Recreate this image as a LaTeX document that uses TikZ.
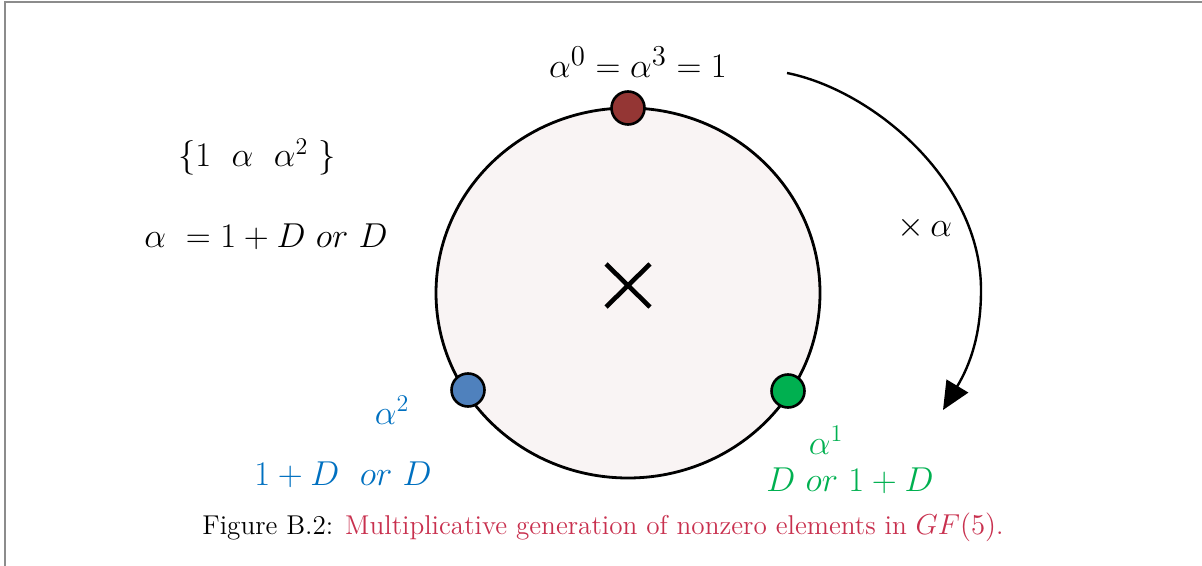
\documentclass[tikz,border=0pt]{standalone}
\usepackage{amsmath}
\usetikzlibrary{arrows.meta,positioning}

\definecolor{ringfill}{HTML}{F9F4F4}
\definecolor{dotred}{HTML}{943634}
\definecolor{dotblue}{HTML}{4F81BD}
\definecolor{dotgreen}{HTML}{00B050}
\definecolor{txtblue}{HTML}{0070C0}
\definecolor{txtgreen}{HTML}{00B050}
\definecolor{capred}{HTML}{C8304E}

\tikzset{
  elem/.style={circle, draw=black, line width=1.3pt, minimum size=16.5pt, inner sep=0pt},
  lbl/.style={font=\fontsize{17}{20}\selectfont, inner sep=0pt},
}

\begin{document}
\begin{tikzpicture}[x=0.5pt, y=-0.5pt]
    \useasboundingbox (0,0) rectangle (1202,566);

    % Frame
    \draw[gray!90, line width=1pt] (5,566) -- (5,2) -- (1202,2);

    % Draw the ring
    \filldraw[fill=ringfill, line width=1.4pt] (628,293) ellipse [x radius=192, y radius=185];

    % Centre cross
    \draw[line width=2.3pt] (606,264) -- (650,307) (650,264) -- (606,307);

    % Elements on the ring
    \node[elem, fill=dotred] (e0) at (628,108) {};
    \node[elem, fill=dotblue] (e2) at (468,390) {};
    \node[elem, fill=dotgreen] (e1) at (788,391) {};

    % Labels
    \node[lbl, font=\fontsize{19}{22}\selectfont] (l0) at (638,62) {$\alpha^0=\alpha^3=1$};
    \node[lbl] (set) at (257,157) {$\{1\ \ \alpha\ \ \alpha^2\ \}$};
    \node[lbl] (gen) at (266,237) {$\alpha\ =1+D\ or\ D$};
    \node[lbl, txtblue] (l2) at (392,410) {$\alpha^2$};
    \node[lbl, txtblue] (p2) at (343,475) {$1+D\ \ or\ D$};
    \node[lbl, txtgreen] (l1) at (826,440) {$\alpha^1$};
    \node[lbl, txtgreen] (p1) at (850,481) {$D\ or\ 1+D$};

    % Multiplication arrow
    \coordinate (s) at (787,73);
    \coordinate (r) at (981,290);
    \coordinate (t) at (943,410);
    \draw[line width=1.2pt, -{Triangle[length=14pt,width=12.5pt]}]
      (s) .. controls (872,90) and (981,180) .. (r)
          .. controls (981,335) and (970,365) .. (t);
    \node[lbl] (mul) at (925,228) {$\times\,\alpha$};

    % Caption
    \node[font=\fontsize{13.6}{16}\selectfont] (cap) at (603,527)
      {Figure B.2: \textcolor{capred}{Multiplicative generation of nonzero elements in $GF(5)$.}};

\end{tikzpicture}
\end{document}
